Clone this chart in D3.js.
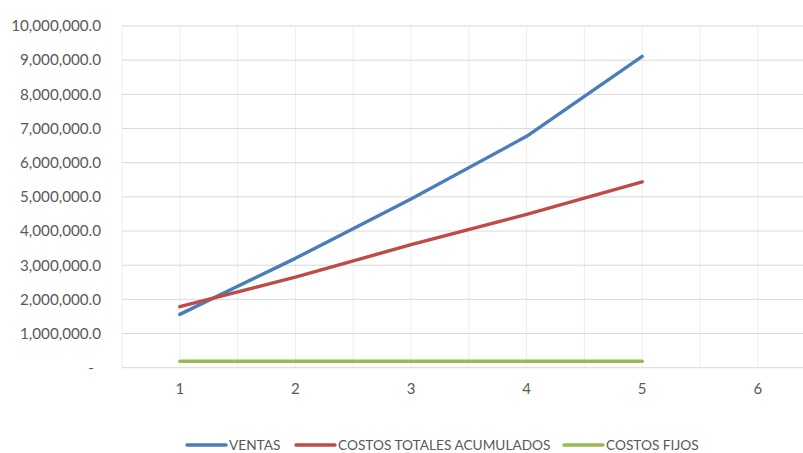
<!DOCTYPE html>
<html><head><meta charset="utf-8">
<script src="https://cdn.jsdelivr.net/npm/d3@7"></script>
<style>
body{margin:0;background:#fff;}
text{font-family:Lato,"Open Sans",sans-serif;fill:#595959;}
</style></head>
<body><svg id="c" width="803" height="453"></svg>
<script>
const categories = [1, 2, 3, 4, 5, 6];
const ventas = [1560000, 3200000, 4940000, 6770000, 9110000];
const costosTotales = [1785000, 2650000, 3600000, 4490000, 5440000];
const costosFijos = [187000, 187000, 187000, 187000, 187000];
const yTicks = [0,1000000,2000000,3000000,4000000,5000000,6000000,7000000,8000000,9000000,10000000];
const seriesNames = ["VENTAS", "COSTOS TOTALES ACUMULADOS", "COSTOS FIJOS"];
const seriesColors = ["#4A7EBB", "#BE4B48", "#98B954"];

const svg = d3.select("#c");
const pLeft = 122, pRight = 815.6, pTop = 26, pBottom = 367.7;
const x = d3.scaleBand().domain(categories).range([pLeft, pRight]).paddingInner(0).paddingOuter(0);
const cx = c => x(c) + x.bandwidth() / 2;
const y = d3.scaleLinear().domain([0, 10000000]).range([pBottom, pTop]);

// vertical gridlines: boundaries and centers
const vlines = [];
categories.forEach(c => { vlines.push(x(c)); vlines.push(cx(c)); });
svg.append("g").selectAll("line").data(vlines).join("line")
  .attr("x1", d => d).attr("x2", d => d).attr("y1", pTop).attr("y2", pBottom)
  .attr("stroke", "#EEEEEE").attr("stroke-width", 1);

// horizontal gridlines
svg.append("g").selectAll("line").data(yTicks).join("line")
  .attr("x1", pLeft).attr("x2", pRight).attr("y1", d => y(d)).attr("y2", d => y(d))
  .attr("stroke", "#D9D9D9").attr("stroke-width", 1);

// y labels
const fmt = d3.format(",.1f");
svg.append("g").selectAll("text").data(yTicks).join("text")
  .attr("x", d => d === 0 ? 94 : 101).attr("y", d => y(d)).attr("dy", "0.35em")
  .attr("text-anchor", "end").attr("font-size", 15.2)
  .text(d => d === 0 ? "-" : fmt(d));

// x labels
svg.append("g").selectAll("text").data(categories).join("text")
  .attr("x", d => cx(d)).attr("y", 389).attr("dy", "0.35em")
  .attr("text-anchor", "middle").attr("font-size", 15).text(d => d);

const line = d3.line().x((d, i) => cx(categories[i])).y(d => y(d));
[ventas, costosTotales, costosFijos].forEach((s, k) => {
  svg.append("path").datum(s).attr("d", line).attr("fill", "none")
    .attr("stroke", seriesColors[k]).attr("stroke-width", 3.4)
    .attr("stroke-linecap", "round").attr("stroke-linejoin", "round");
});

// legend
const legX = [187, 296, 564];
const lg = svg.append("g");
seriesNames.forEach((n, k) => {
  lg.append("line").attr("x1", legX[k]).attr("x2", legX[k] + 39).attr("y1", 445).attr("y2", 445)
    .attr("stroke", seriesColors[k]).attr("stroke-width", 3.4).attr("stroke-linecap", "round");
  lg.append("text").attr("x", legX[k] + 42).attr("y", 445).attr("dy", "0.35em")
    .attr("font-size", 13.7).text(n);
});
</script></body></html>
